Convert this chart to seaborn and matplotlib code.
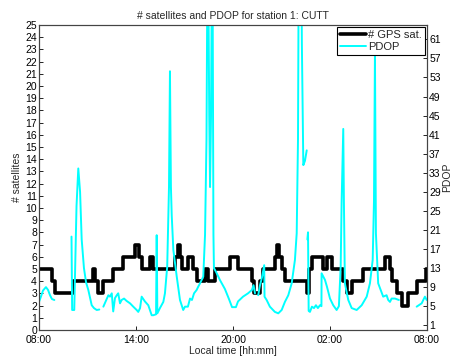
import numpy as np
import pandas as pd
import matplotlib
matplotlib.use("Agg")
import matplotlib.pyplot as plt
import seaborn as sns

# number of GPS satellites (step changes, hours after 08:00)
sat_hours = [0.00, 0.80, 0.99, 2.10, 3.34, 3.46, 3.65, 3.96, 4.58, 5.19, 5.94, 6.18, 6.37, 6.86,
             7.05, 8.41, 8.60, 8.72, 8.84, 9.21, 9.52, 9.77, 10.27, 10.45, 10.88, 11.81, 12.31,
             13.17, 13.30, 13.67, 13.85, 14.60, 14.72, 14.84, 15.03, 15.21, 16.57, 16.70, 16.88,
             17.56, 17.81, 18.12, 18.80, 19.05, 19.36, 20.04, 21.40, 21.71, 21.83, 22.14, 22.45,
             22.82, 23.38, 23.93, 24.00]
sat_count = [5, 4, 3, 4, 5, 4, 3, 4, 5, 6, 7, 6, 5, 6, 5, 6, 7, 6, 5, 6, 5, 4, 5, 4, 5, 6, 5, 4,
             3, 4, 5, 6, 7, 6, 5, 4, 3, 5, 6, 5, 6, 5, 4, 3, 4, 5, 6, 5, 4, 3, 2, 3, 4, 5, 5]

# PDOP, in pieces (gaps between them)
seg1_hours = [0.00, 0.12, 0.25, 0.43, 0.56, 0.68, 0.80, 0.95]
seg1_pdop = [5.9, 7.0, 8.3, 9.0, 8.4, 7.3, 6.5, 6.3]
seg2_hours = [2.01, 2.05, 2.18, 2.23, 2.32, 2.43, 2.54, 2.64, 2.78, 2.91, 3.05, 3.26, 3.40, 3.57, 3.73]
seg2_pdop = [19.6, 4.2, 4.2, 12, 26, 33.9, 29, 19, 13, 10, 8.4, 5.2, 4.6, 4.2, 4.3]
seg3_hours = [3.98, 4.29, 4.39, 4.50, 4.59, 4.70, 4.81, 4.90, 5.01, 5.11, 5.26, 5.42, 5.63, 5.83,
              6.04, 6.14, 6.25, 6.35, 6.55, 6.76, 6.97, 7.07, 7.24, 7.28, 7.32, 7.48, 7.69, 7.79,
              7.93, 8.04, 8.10, 8.16, 8.21, 8.31, 8.52, 8.72, 8.92, 9.03, 9.21, 9.34, 9.46, 9.59,
              9.75, 9.85, 9.96, 10.06, 10.16, 10.27, 10.36, 10.44, 10.53, 10.58, 10.64, 10.72,
              10.79, 10.82, 10.95, 11.19, 11.50, 11.75, 11.94, 12.18, 12.31, 12.62, 12.93, 13.17,
              13.27, 13.36]
seg3_pdop = [4.9, 7.3, 7.0, 7.7, 3.9, 6.7, 7.3, 7.7, 5.6, 6.3, 6.6, 6.1, 5.6, 4.9, 4.2, 3.8, 4.6,
             7.0, 6.0, 5.2, 3.1, 3.1, 3.3, 19.9, 3.5, 4.6, 5.9, 7.7, 13.3, 30, 54.3, 30, 24, 16.8,
             11.2, 6.3, 4.2, 4.9, 4.9, 6.6, 6.3, 7.7, 8.4, 9.1, 9.8, 10.5, 11.2, 20, 40, 90, 45,
             30, 45, 90, 20, 13, 12.2, 10.5, 8.6, 6.5, 4.8, 4.8, 6.0, 7.0, 7.7, 8.4, 9.4, 7.7]
seg4_hours = [13.56, 13.67, 13.79, 13.93, 13.95, 14.08, 14.28, 14.59, 14.80, 15.01, 15.21, 15.42,
              15.63, 15.83, 15.94, 16.02, 16.08, 16.20, 16.26, 16.35, 16.45, 16.56]
seg4_pdop = [7.3, 9.4, 11.0, 13.6, 7.0, 6.3, 4.9, 3.8, 3.5, 4.2, 5.9, 7.3, 9.8, 14.7, 20.3, 40,
             90, 90, 60, 34.6, 35.5, 37.7]
seg5_hours = [16.60, 16.64, 16.68, 16.76, 16.88, 17.01, 17.13, 17.25, 17.38, 17.47, 17.48, 17.69,
              17.81, 18.00, 18.20, 18.41, 18.55, 18.66, 18.72, 18.82, 18.86, 18.92, 19.13, 19.34,
              19.65, 19.96, 20.27, 20.47, 20.64, 20.72, 20.78, 20.84, 20.98, 21.29, 21.50, 21.60,
              21.71, 21.81, 22.02, 22.26]
seg5_pdop = [19, 20.5, 4.0, 3.8, 4.9, 4.6, 5.2, 4.6, 5.2, 5.0, 11.9, 10.5, 9.1, 6.6, 5.2, 4.2,
             5.0, 13.3, 27, 42.2, 27, 9.8, 6.3, 4.6, 4.2, 5.2, 7.0, 9.8, 14.7, 27, 58, 20.3, 9.8,
             7.0, 7.3, 6.3, 5.9, 6.6, 6.6, 6.3]
seg6_hours = [23.36, 23.67, 23.87, 23.98]
seg6_pdop = [4.9, 5.6, 7.0, 6.3]

time_ticks = [0, 6, 12, 18, 24]
time_labels = ["08:00", "14:00", "20:00", "02:00", "08:00"]

sat_df = pd.DataFrame({"hours": sat_hours, "sats": sat_count})
pieces = [(seg1_hours, seg1_pdop), (seg2_hours, seg2_pdop), (seg3_hours, seg3_pdop),
          (seg4_hours, seg4_pdop), (seg5_hours, seg5_pdop), (seg6_hours, seg6_pdop)]
pdop_df = pd.concat([pd.DataFrame({"hours": h, "pdop": p, "seg": i})
                     for i, (h, p) in enumerate(pieces)], ignore_index=True)

sns.set_theme(style="white")
plt.rcParams["font.family"] = ["Liberation Sans", "DejaVu Sans"]
fs = 7.5

fig = plt.figure(figsize=(4.52, 3.56), dpi=100)
ax = fig.add_axes([0.0863, 0.073, 0.8584, 0.8567])
ax2 = ax.twinx()

sns.lineplot(data=sat_df, x="hours", y="sats", drawstyle="steps-post", color="black",
             linewidth=2.6, ax=ax, legend=False)
sns.lineplot(data=pdop_df, x="hours", y="pdop", units="seg", estimator=None, color="#00ffff",
             linewidth=1.4, ax=ax2, legend=False)

ax.set_xlim(0, 24)
ax.set_ylim(0, 25)
ax.set_yticks(range(0, 26))
ax.set_xticks(time_ticks)
ax.set_xticklabels(time_labels)
ax2.set_ylim(0, 64)
ax2.set_yticks(range(1, 62, 4))

ax.set_xlabel("Local time [hh:mm]", fontsize=fs, labelpad=1)
ax.set_ylabel("# satellites", fontsize=fs, labelpad=2)
ax2.set_ylabel("PDOP", fontsize=fs, labelpad=1, rotation=90)
ax.set_title("# satellites and PDOP for station 1: CUTT", fontsize=fs, pad=4)

for a in (ax, ax2):
    a.tick_params(direction="in", length=3, width=0.6, labelsize=fs, pad=1.5, colors="black")
    for s in a.spines.values():
        s.set_color("#444444")
        s.set_linewidth(0.8)
ax.tick_params(axis="y", left=True, right=False)
ax.tick_params(axis="x", bottom=True, top=False, pad=3.5)
ax2.tick_params(axis="y", right=True, left=False)

handles = [plt.Line2D([], [], color="black", lw=2.6), plt.Line2D([], [], color="#00ffff", lw=1.4)]
leg = ax2.legend(handles, ["# GPS sat.", "PDOP"], loc="upper right", fontsize=8,
                 fancybox=False, framealpha=1, edgecolor="black", borderaxespad=0.15,
                 handlelength=2.3, handletextpad=0.2, borderpad=0.3, labelspacing=0.15)
leg.get_frame().set_linewidth(0.8)

fig.savefig("out.png", dpi=100)
